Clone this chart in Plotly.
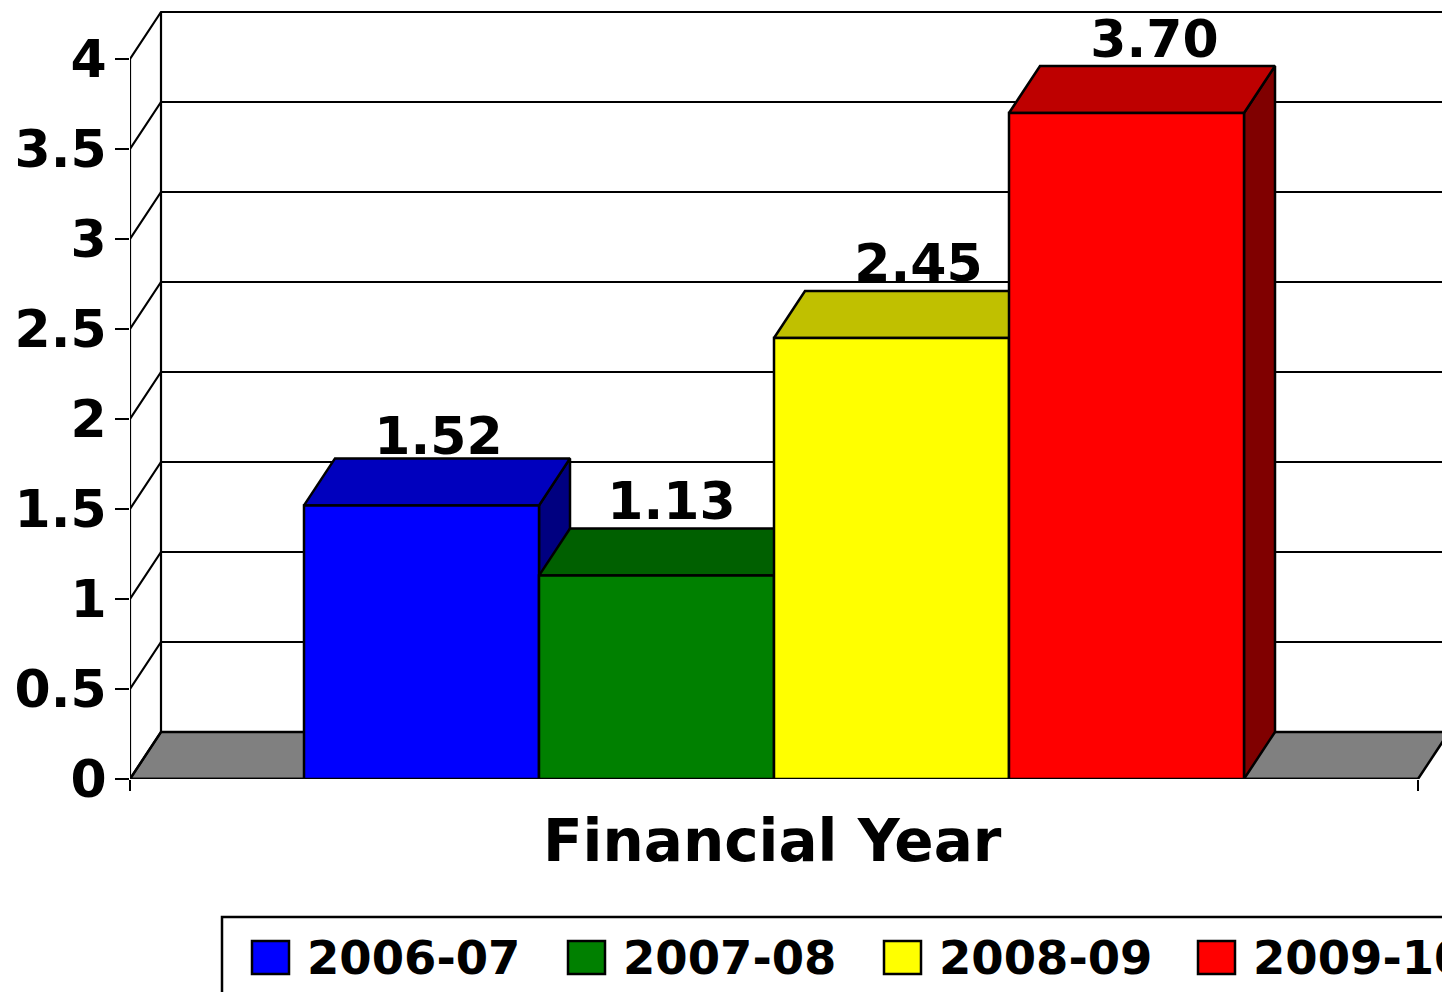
import plotly.graph_objects as go

# ---- data ----
years = ["2006-07", "2007-08", "2008-09", "2009-10"]
values = [1.52, 1.13, 2.45, 3.70]
labels = ["1.52", "1.13", "2.45", "3.70"]
y_ticks = [0, 0.5, 1, 1.5, 2, 2.5, 3, 3.5, 4]
y_tick_text = ["0", "0.5", "1", "1.5", "2", "2.5", "3", "3.5", "4"]
x_title = "Financial Year"

# ---- style ----
front = ["#0000FF", "#008000", "#FFFF00", "#FF0000"]
top = ["#0000BE", "#006000", "#C0C000", "#BE0000"]
side = ["#000080", "#004000", "#808000", "#800000"]
FONT = "DejaVu Sans"
W, H = 1442, 992
X0, X1, Y0 = 130, 1418, 779          # front plane in page pixels
PX_X = X1 - X0
PX_Y = 180.0                         # pixels per value unit
DX, DY = 31 / PX_X, 47 / PX_Y        # depth offset in axis units
BARGAP = 348 / PX_X
XR = [-0.5, 0.5 + (W - X1) / PX_X]
YR = [0, Y0 / PX_Y]
label_dx = [17, 15, 27, 28]          # label shift from bar centre, px
label_dy = [64, 70, 70, 69]
EDGE = 2.5


def line(xs, ys, width=2.2):
    return go.Scatter(x=xs, y=ys, mode="lines", cliponaxis=False, hoverinfo="skip",
                      line=dict(color="black", width=width), showlegend=False)


def face(xs, ys, color):
    return go.Scatter(x=xs + xs[:1], y=ys + ys[:1], mode="lines", fill="toself", fillcolor=color,
                      line=dict(color="black", width=EDGE), hoverinfo="skip", showlegend=False)


fig = go.Figure()

# back wall, left wall and floor
fig.add_trace(face([-0.5, -0.5 + DX, 0.5 + DX, 0.5], [0, DY, DY, 0], "#808080"))
for t in y_ticks:
    fig.add_trace(line([-0.5, -0.5 + DX, XR[1] + DX], [t, t + DY, t + DY]))
fig.add_trace(line([-0.5 + DX, -0.5 + DX], [DY, y_ticks[-1] + DY]))
fig.add_trace(line([-0.5, -0.5], [0, y_ticks[-1]]))
fig.add_trace(line([-0.5, 0.5], [0, 0], EDGE))

# depth faces of the bars, placed behind the bar fronts
bw = (1 - BARGAP) / len(values)
start = -0.5 + BARGAP / 2
for i, v in enumerate(values):
    a, b = start + i * bw, start + (i + 1) * bw
    fig.add_trace(face([b, b + DX, b + DX, b], [0, DY, v + DY, v], side[i]))
    fig.add_trace(face([a, a + DX, b + DX, b], [v, v + DY, v + DY, v], top[i]))

# data labels
fig.add_trace(go.Scatter(
    x=[start + (i + 0.5) * bw + label_dx[i] / PX_X for i in range(len(values))],
    y=[values[i] + label_dy[i] / PX_Y for i in range(len(values))],
    text=labels, mode="text", textposition="middle center", cliponaxis=False,
    textfont=dict(family=FONT, size=52, color="black", weight="bold"),
    hoverinfo="skip", showlegend=False))

# bars on an overlay axis pair so they draw above the depth faces
for i, v in enumerate(values):
    fig.add_trace(go.Bar(x=[0], y=[v], name=years[i], xaxis="x2", yaxis="y2",
                         marker=dict(color=front[i], line=dict(color="black", width=EDGE)),
                         showlegend=False, cliponaxis=False))

ax_dom = [X0 / W, 1]
ay_dom = [(H - Y0) / H, 1]


def px(x):
    return x / W


def py(y):
    return (H - y) / H


shapes = [dict(type="rect", xref="paper", yref="paper", x0=px(222), x1=px(1600), y0=py(1100), y1=py(917),
               line=dict(color="black", width=2.5), fillcolor="white")]
annotations = [dict(text=x_title, x=-1.5 / PX_X, xref="x", y=py(841), yref="paper", showarrow=False,
                    xanchor="center", yanchor="middle",
                    font=dict(family=FONT, size=58, color="black", weight="bold"))]
legend_x = [252, 568, 884, 1198]
for i, name in enumerate(years):
    shapes.append(dict(type="rect", xref="paper", yref="paper",
                       x0=px(legend_x[i]), x1=px(legend_x[i] + 37), y0=py(974), y1=py(941),
                       fillcolor=front[i], line=dict(color="black", width=2.5)))
    annotations.append(dict(text=name, x=px(legend_x[i] + 52.5), y=py(958), xref="paper", yref="paper",
                            showarrow=False, xanchor="left", yanchor="middle",
                            font=dict(family=FONT, size=46.5, color="black", weight="bold")))

fig.update_layout(
    width=W, height=H, margin=dict(l=0, r=0, t=0, b=0, pad=0, autoexpand=False),
    paper_bgcolor="white", plot_bgcolor="white",
    barmode="group", bargap=BARGAP, bargroupgap=0, showlegend=False,
    shapes=shapes, annotations=annotations,
    xaxis=dict(domain=ax_dom, range=XR, tickvals=[-0.5, 0.5], ticks="outside", ticklen=11, tickwidth=2,
               tickcolor="black", showticklabels=False, showgrid=False, zeroline=False, showline=False),
    yaxis=dict(domain=ay_dom, range=YR, tickvals=y_ticks, ticktext=y_tick_text, ticks="outside",
               ticklen=14, tickwidth=2, tickcolor="black", ticklabelstandoff=-2,
               tickfont=dict(family=FONT, size=52, color="black", weight="bold"),
               showgrid=False, zeroline=False, showline=False),
    xaxis2=dict(overlaying="x", anchor="y2", range=XR, visible=False),
    yaxis2=dict(overlaying="y", anchor="x2", range=YR, visible=False),
)

fig.write_html("out.html", config=dict(displayModeBar=False),
               post_script="document.body.style.margin='0';document.body.style.overflow='hidden';")
